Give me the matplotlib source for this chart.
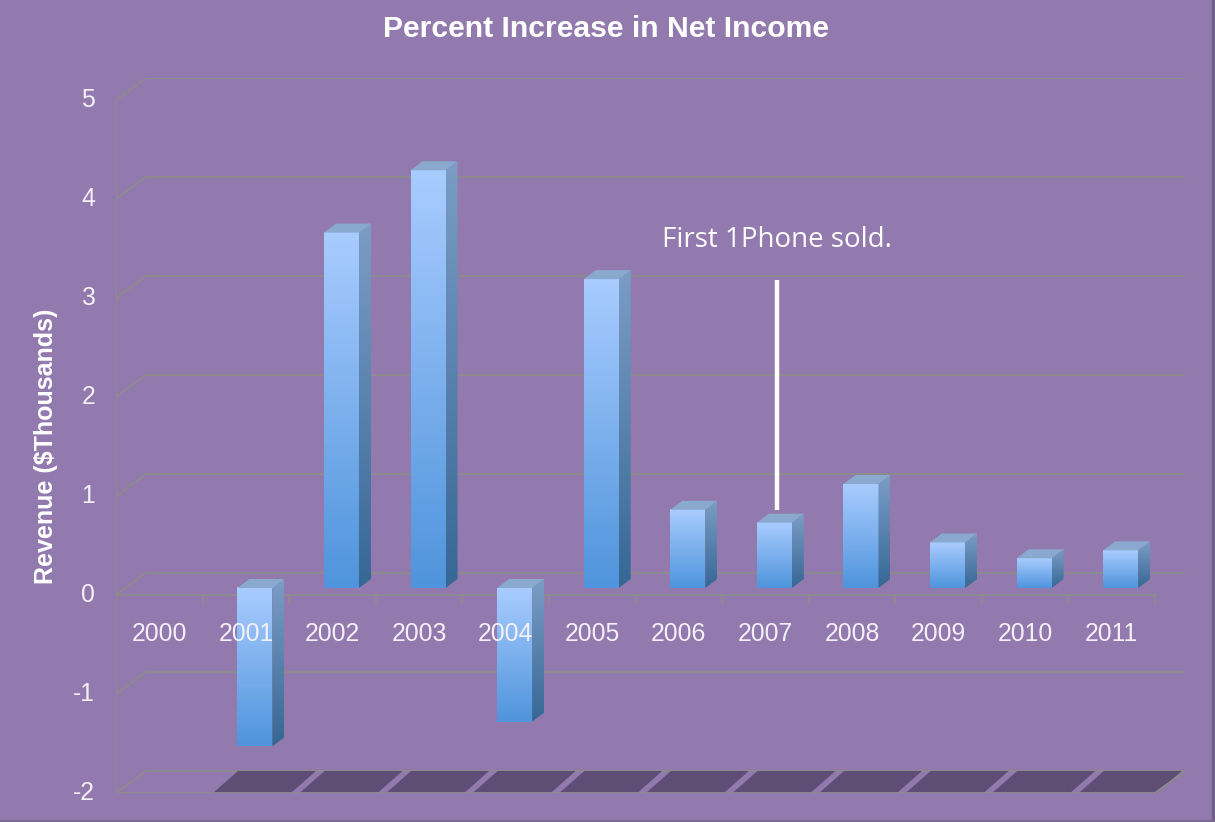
import numpy as np
import matplotlib.pyplot as plt
from matplotlib.patches import Polygon
from matplotlib.lines import Line2D
from matplotlib.colors import LinearSegmentedColormap

plt.rcParams['font.family'] = ['Liberation Sans', 'DejaVu Sans']

years = ['2000', '2001', '2002', '2003', '2004', '2005',
         '2006', '2007', '2008', '2009', '2010', '2011']
values = [0, -1.6, 3.59, 4.22, -1.35, 3.12, 0.79, 0.66, 1.05, 0.46, 0.30, 0.38]
y_ticks = [5, 4, 3, 2, 1, 0, -1, -2]
note_text = 'First 1Phone sold.'
note_year = '2007'
note_top = 3.18

bg = '#9279ae'
grid_c = '#8c8c8c'

W, H = 1215, 822
fig = plt.figure(figsize=(W / 100, H / 100), dpi=100)
fig.patch.set_facecolor(bg)
# darker edge on right and bottom only
fig.add_artist(Line2D([0.9985, 0.9985], [0, 1], color='#6f5f88', lw=2.5, transform=fig.transFigure))
fig.add_artist(Line2D([0, 1], [0.0015, 0.0015], color='#7a6a92', lw=2, transform=fig.transFigure))

# pixel layout of the front plane
px_l, px_r = 116, 1155
px_top, px_bot = 100, 793
wall_dx, wall_dy = 30, 22          # depth of the chart box, px
ymin, ymax = -2, 5
n = len(years)
sx = (px_r - px_l) / n                 # px per category
sy = (px_bot - px_top) / (ymax - ymin)  # px per unit

DX = wall_dx / sx
DY = wall_dy / sy
xl, xr = -0.5, n - 0.5 + DX
yb, yt = ymin, ymax + DY

ax = fig.add_axes([px_l / W, (H - px_bot) / H,
                   (px_r + wall_dx - px_l) / W, (px_bot - px_top + wall_dy) / H])
ax.set_xlim(xl, xr)
ax.set_ylim(yb, yt)
ax.axis('off')
ax.patch.set_alpha(0)

# back wall gridlines + left side diagonals
for v in y_ticks:
    ax.plot([-0.5, -0.5 + DX, n - 0.5 + DX], [v, v + DY, v + DY],
            color=grid_c, lw=1.3, zorder=1, solid_capstyle='butt')
    ax.plot([-0.5 - 8 / sx, -0.5], [v, v], color=grid_c, lw=1.3, zorder=1)
# front vertical axis
ax.plot([-0.5, -0.5], [ymin, ymax], color=grid_c, lw=1.3, zorder=1)
# floor front edge and right diagonal
ax.plot([-0.5, n - 0.5, n - 0.5 + DX], [ymin, ymin, ymin + DY],
        color=grid_c, lw=1.3, zorder=2)

# floor shadows
for i, v in enumerate(values):
    if v == 0:
        continue
    b0, b1 = i - 0.38, i + 0.52
    sh = 25 / sx
    ax.add_patch(Polygon([(b0, ymin), (b1, ymin), (b1 + sh, ymin + DY), (b0 + sh, ymin + DY)],
                         closed=True, facecolor='#5e4d74', edgecolor='none', zorder=1.5))

# front zero axis with ticks
ax.plot([-0.5, n - 0.5], [0, 0], color=grid_c, lw=1.3, zorder=2)
for i in range(n):
    ax.plot([i + 0.5, i + 0.5], [0, -8 / sy], color=grid_c, lw=1.3, zorder=2)

# bars
face_w = 35 / sx
off_x, off_y = 9 / sx, 7 / sy
bdx, bdy = 12 / sx, 9 / sy
grad = np.linspace(0, 1, 256).reshape(-1, 1)
face_cmap = LinearSegmentedColormap.from_list('face', ['#4f94dc', '#a9ccff'])
side_cmap = LinearSegmentedColormap.from_list('side', ['#366795', '#7b9dc6'])

for i, v in enumerate(values):
    if v == 0:
        continue
    x0 = i + off_x - face_w / 2
    x1 = x0 + face_w
    y0 = off_y
    y1 = off_y + v
    lo, hi = min(y0, y1), max(y0, y1)
    ax.imshow(grad, extent=[x0, x1, lo, hi], origin='lower', cmap=face_cmap,
              aspect='auto', interpolation='bicubic', zorder=3)
    side = Polygon([(x1, lo), (x1 + bdx, lo + bdy), (x1 + bdx, hi + bdy), (x1, hi)],
                   closed=True, facecolor='none', edgecolor='none')
    ax.add_patch(side)
    im = ax.imshow(grad, extent=[x1, x1 + bdx, lo, hi + bdy], origin='lower', cmap=side_cmap,
                   aspect='auto', interpolation='bicubic', zorder=3)
    im.set_clip_path(side)
    ax.add_patch(Polygon([(x0, hi), (x1, hi), (x1 + bdx, hi + bdy), (x0 + bdx, hi + bdy)],
                         closed=True, facecolor='#8aa9cf', edgecolor='none', zorder=3))

ax.set_xlim(xl, xr)
ax.set_ylim(yb, yt)

# category labels
for i, yr in enumerate(years):
    ax.text(i, -39 / sy, yr, ha='center', va='center', color='#f4f0f8',
            fontsize=17.8, zorder=5)
# value tick labels
for v in y_ticks:
    ax.text(-0.5 - 21 / sx, v, str(v), ha='right', va='center', color='#f4f0f8',
            fontsize=17.8, zorder=5, clip_on=False)

# annotation
k = years.index(note_year)
lx = k + off_x + 3 / sx
ax.plot([lx, lx], [values[k] + off_y + 13 / sy, note_top],
        color='white', lw=3.2, zorder=4, solid_capstyle='butt')
ax.text(lx, note_top + 40 / sy, note_text, ha='center', va='center',
        color='white', fontsize=20, family=['Open Sans', 'DejaVu Sans'], zorder=5)

fig.text(606 / W, 1 - 29 / H, 'Percent Increase in Net Income', ha='center', va='center',
         color='white', fontsize=21.7, fontweight='bold')
fig.text(46 / W, 1 - 446 / H, 'Revenue ($Thousands)', ha='center', va='center',
         rotation=90, color='white', fontsize=18, fontweight='bold')

fig.savefig('out.png', dpi=100, facecolor=fig.get_facecolor())
